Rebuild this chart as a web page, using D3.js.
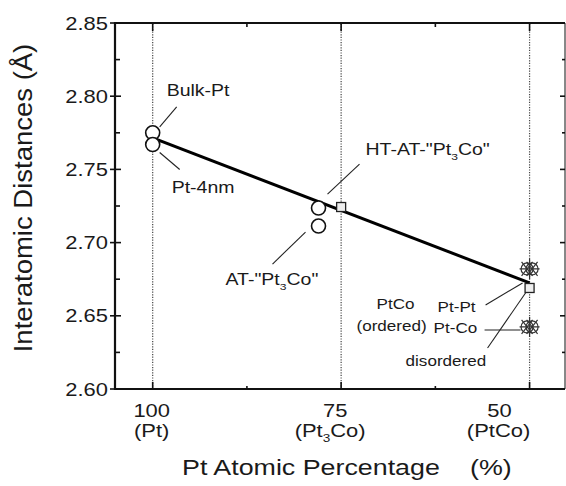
<!DOCTYPE html>
<html>
<head>
<meta charset="utf-8">
<script src="https://cdn.jsdelivr.net/npm/d3@7"></script>
<style>
body { margin: 0; background: #fff; }
text { font-family: "Liberation Sans", Arial, sans-serif; fill: #1a1a1a; }
</style>
</head>
<body>
<div id="container"></div>
<script>
// ---- data ----
let circleX = [100, 100, 78, 78];
let circleY = [2.775, 2.767, 2.7236, 2.7113];
let squareX = [75, 50];
let squareY = [2.7243, 2.669];
let crossX = [50, 50];
let crossY = [2.682, 2.6424];
let fitX = [100, 50];
let fitY = [2.7715, 2.6725];
let guideX = [100, 75, 50];
let yTicks = [2.60, 2.65, 2.70, 2.75, 2.80, 2.85];
let yMinor = [2.625, 2.675, 2.725, 2.775, 2.825];
let xTicks = [100, 75, 50];
let xMinor = [87.5, 62.5];
let xTickLabels = ["100", "75", "50"];
let xTickNames = ["(Pt)", "(Pt_3_Co)", "(PtCo)"];

// ---- layout ----
let w = 566, h = 486;
let m = {left: 115, right: 1, top: 23, bottom: 97};
let sx = 1.22; // the scanned lettering is wide

let x = d3.scaleLinear().domain([105, 45.3]).range([m.left, w - m.right]);
let y = d3.scaleLinear().domain([2.60, 2.85]).range([h - m.bottom, m.top]);

let svg = d3.select("div#container").append("svg")
    .attr("width", w).attr("height", h);

// text with optional _subscript_ parts
function label(sel, px, py, str, size, anchor, stretch, rot) {
    let t = sel.append("text")
        .attr("transform", "translate(" + px + "," + py + ")" + (rot ? " rotate(" + rot + ")" : "") + " scale(" + stretch + ",1)")
        .attr("font-size", size)
        .attr("text-anchor", anchor || "start");
    str.split("_").forEach((p, i) => {
        if (!p) return;
        let sp = t.append("tspan").text(p);
        if (i % 2 == 1) sp.attr("font-size", size * 0.62).attr("dy", size * 0.3);
        else if (i > 0) sp.attr("dy", -size * 0.3);
    });
    return t;
}

// dotted composition guides
svg.selectAll("line.guide").data(guideX).enter().append("line")
    .attr("class", "guide")
    .attr("x1", d => x(d)).attr("x2", d => x(d))
    .attr("y1", y(2.60)).attr("y2", y(2.85))
    .attr("stroke", "#444").attr("stroke-width", 1.2)
    .attr("stroke-dasharray", "1.2,1.4");

// frame and ticks
let ax = svg.append("g").attr("stroke", "#111").attr("fill", "none");
function tickLines(vals, f, len) {
    vals.forEach(v => { let p = f(v); ax.append("line").attr("x1", p[0]).attr("y1", p[1]).attr("x2", p[0] + len[0]).attr("y2", p[1] + len[1]).attr("stroke-width", 1.6); });
}
let L = m.left, R = w - m.right, T = m.top, B = h - m.bottom;
tickLines(yTicks, v => [L, y(v)], [-5, 0]);
tickLines(yTicks, v => [L, y(v)], [6, 0]);
tickLines(yMinor, v => [L, y(v)], [5, 0]);
tickLines(yTicks, v => [R, y(v)], [-5, 0]);
tickLines(yMinor, v => [R, y(v)], [-3, 0]);
tickLines(xTicks, v => [x(v), B], [0, -7]);
tickLines(xMinor, v => [x(v), B], [0, -3]);
tickLines(xTicks, v => [x(v), T], [0, 8]);
tickLines(xMinor, v => [x(v), T], [0, 4]);
ax.append("line").attr("x1", L).attr("x2", R).attr("y1", T).attr("y2", T).attr("stroke-width", 2);
ax.append("line").attr("x1", L).attr("x2", R).attr("y1", B).attr("y2", B).attr("stroke-width", 2.2);
ax.append("line").attr("x1", L).attr("x2", L).attr("y1", T - 1).attr("y2", B + 1).attr("stroke-width", 2.2);
ax.append("line").attr("x1", R).attr("x2", R).attr("y1", T).attr("y2", B).attr("stroke-width", 1);

// tick labels
yTicks.forEach(v => label(svg, 108, y(v) + 6.5, v.toFixed(2), 18, "end", sx));
let xShift1 = [-1, -6, -30], xShift2 = [-1, -11, -31];
xTicks.forEach((v, i) => {
    label(svg, x(v) + xShift1[i], 417, xTickLabels[i], 18, "middle", sx);
    label(svg, x(v) + xShift2[i], 437, xTickNames[i], 18, "middle", sx);
});

// axis titles
label(svg, 182, 475, "Pt Atomic Percentage", 22, "start", sx);
label(svg, 470, 475, "(%)", 22, "start", sx);
label(svg, 32, 198, "Interatomic Distances (Å)", 25, "middle", 1.1, -90);

// fit line
let line = d3.line().x(d => x(d[0])).y(d => y(d[1]));
svg.append("path").datum(d3.zip(fitX, fitY))
    .attr("d", line).attr("fill", "none")
    .attr("stroke", "#000").attr("stroke-width", 3);

// leader lines and annotation text, offsets in px from the marker they point at
let notes = [
    {t: "Bulk-Pt", at: [100, 2.775], txt: [14, -37], a: [7, -6], b: [24, -26], size: 16},
    {t: "Pt-4nm", at: [100, 2.767], txt: [19, 48], a: [7, 8], b: [27, 25], size: 16},
    {t: "HT-AT-\"Pt_3_Co\"", at: [78, 2.7236], txt: [47, -53], a: [9, -14], b: [41, -44], size: 16},
    {t: "AT-\"Pt_3_Co\"", at: [78, 2.7113], txt: [-93, 59], a: [-13, 6], b: [-46, 38], size: 16},
    {t: "Pt-Pt", at: [50, 2.669], txt: [-92, 24], a: [-7, -5], b: [-44, 17], size: 14},
    {t: "Pt-Co", at: [50, 2.6424], txt: [-96, 6], a: [-9, 3], b: [-45, 3], size: 14},
    {t: "disordered", at: [50, 2.669], txt: [-124, 78], a: [-2, 2], b: [-42, 60], size: 14}
];
notes.forEach(n => {
    let px = x(n.at[0]), py = y(n.at[1]);
    svg.append("line")
        .attr("x1", px + n.a[0]).attr("y1", py + n.a[1])
        .attr("x2", px + n.b[0]).attr("y2", py + n.b[1])
        .attr("stroke", "#222").attr("stroke-width", 1.1);
    label(svg, px + n.txt[0], py + n.txt[1], n.t, n.size, "start", sx);
});
label(svg, x(50) - 134, y(2.669) + 21, "PtCo", 14, "middle", sx);
label(svg, x(50) - 138, y(2.669) + 43, "(ordered)", 14, "middle", sx);

// open circles
svg.selectAll("circle.pt").data(d3.zip(circleX, circleY)).enter().append("circle")
    .attr("class", "pt")
    .attr("cx", d => x(d[0])).attr("cy", d => y(d[1])).attr("r", 7)
    .attr("fill", "#fff").attr("stroke", "#111").attr("stroke-width", 1.6);

// open squares
svg.selectAll("rect.sq").data(d3.zip(squareX, squareY)).enter().append("rect")
    .attr("class", "sq")
    .attr("x", d => x(d[0]) - 4.5).attr("y", d => y(d[1]) - 4.5)
    .attr("width", 9).attr("height", 9)
    .attr("fill", "#eee").attr("stroke", "#222").attr("stroke-width", 1.3);

// crossed circles (ordered PtCo)
let cr = svg.selectAll("g.cross").data(d3.zip(crossX, crossY)).enter().append("g")
    .attr("class", "cross")
    .attr("transform", d => "translate(" + x(d[0]) + "," + y(d[1]) + ")")
    .attr("stroke", "#333").attr("stroke-width", 1.2).attr("fill", "none");
[-2.5, 2.5].forEach(o => {
    cr.append("circle").attr("cx", o).attr("cy", 0).attr("r", 6);
    cr.append("path").attr("d", "M" + (o - 5.5) + ",-7L" + (o + 5.5) + ",7M" + (o - 5.5) + ",7L" + (o + 5.5) + ",-7");
});
cr.append("path").attr("d", "M0,-10V10M-10,0H10");
</script>
</body>
</html>
